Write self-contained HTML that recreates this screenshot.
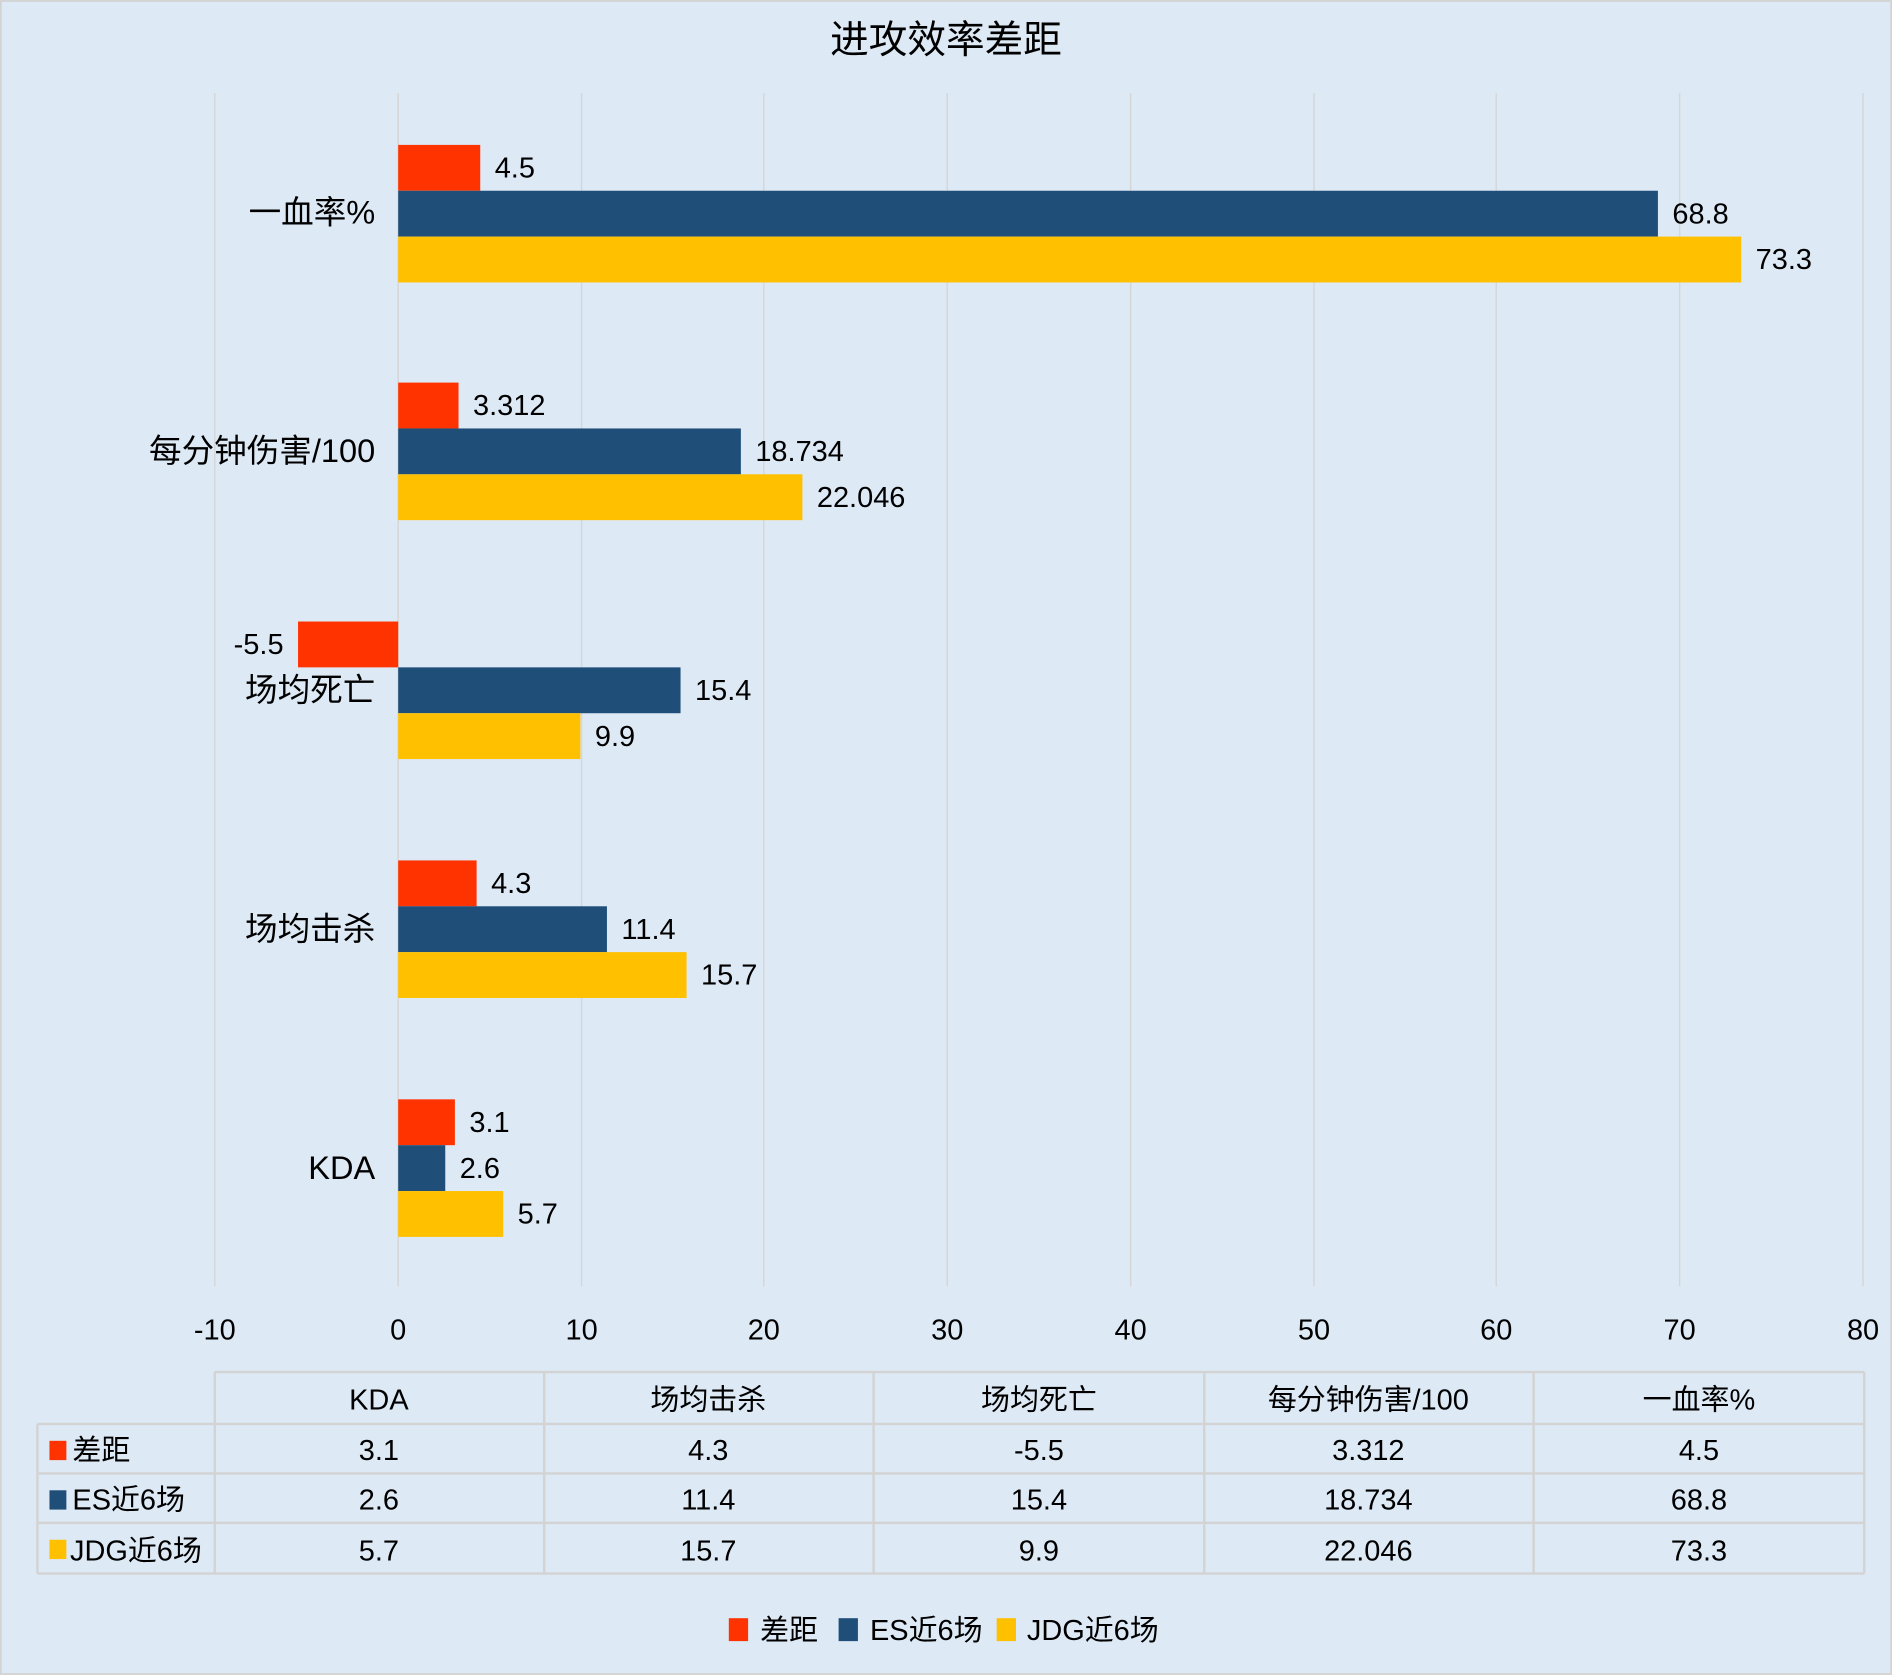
<!DOCTYPE html>
<html><head><meta charset="utf-8"><style>
html,body{margin:0;padding:0;background:#dde9f5;}
svg{display:block;}
text{font-family:"Liberation Sans","Noto Sans CJK SC",sans-serif;fill:#000;}
</style></head><body>
<svg width="1892" height="1675" viewBox="0 0 1568 1388" xmlns="http://www.w3.org/2000/svg">
<rect x="0" y="0" width="1568" height="1388" fill="#dde9f5"/>
<rect x="0.7" y="0.7" width="1566.6" height="1386.6" fill="none" stroke="#d3d3d3" stroke-width="1.5"/>
<text x="784" y="44" font-size="32" text-anchor="middle">进攻效率差距</text>
<g stroke="#d6d6d6" stroke-width="1.2">
<line x1="178" y1="77" x2="178" y2="1066"/>
<line x1="330" y1="77" x2="330" y2="1066"/>
<line x1="482" y1="77" x2="482" y2="1066"/>
<line x1="633" y1="77" x2="633" y2="1066"/>
<line x1="785" y1="77" x2="785" y2="1066"/>
<line x1="937" y1="77" x2="937" y2="1066"/>
<line x1="1089" y1="77" x2="1089" y2="1066"/>
<line x1="1240" y1="77" x2="1240" y2="1066"/>
<line x1="1392" y1="77" x2="1392" y2="1066"/>
<line x1="1544" y1="77" x2="1544" y2="1066"/>
</g>
<g font-size="24" text-anchor="middle">
<text x="178" y="1110">-10</text><text x="330" y="1110">0</text><text x="482" y="1110">10</text>
<text x="633" y="1110">20</text><text x="785" y="1110">30</text><text x="937" y="1110">40</text>
<text x="1089" y="1110">50</text><text x="1240" y="1110">60</text><text x="1392" y="1110">70</text>
<text x="1544" y="1110">80</text>
</g>
<g>
<rect x="330" y="120" width="68" height="38" fill="#ff3300"/>
<rect x="330" y="158" width="1044" height="38" fill="#1f4e79"/>
<rect x="330" y="196" width="1113" height="38" fill="#ffc000"/>
<rect x="330" y="317" width="50" height="38" fill="#ff3300"/>
<rect x="330" y="355" width="284" height="38" fill="#1f4e79"/>
<rect x="330" y="393" width="335" height="38" fill="#ffc000"/>
<rect x="247" y="515" width="83" height="38" fill="#ff3300"/>
<rect x="330" y="553" width="234" height="38" fill="#1f4e79"/>
<rect x="330" y="591" width="151" height="38" fill="#ffc000"/>
<rect x="330" y="713" width="65" height="38" fill="#ff3300"/>
<rect x="330" y="751" width="173" height="38" fill="#1f4e79"/>
<rect x="330" y="789" width="239" height="38" fill="#ffc000"/>
<rect x="330" y="911" width="47" height="38" fill="#ff3300"/>
<rect x="330" y="949" width="39" height="38" fill="#1f4e79"/>
<rect x="330" y="987" width="87" height="38" fill="#ffc000"/>
</g>
<g font-size="24">
<text x="410" y="147">4.5</text><text x="1386" y="185">68.8</text><text x="1455" y="223">73.3</text>
<text x="392" y="344">3.312</text><text x="626" y="382">18.734</text><text x="677" y="420">22.046</text>
<text x="235" y="542" text-anchor="end">-5.5</text><text x="576" y="580">15.4</text><text x="493" y="618">9.9</text>
<text x="407" y="740">4.3</text><text x="515" y="778">11.4</text><text x="581" y="816">15.7</text>
<text x="389" y="938">3.1</text><text x="381" y="976">2.6</text><text x="429" y="1014">5.7</text>
</g>
<g font-size="27" text-anchor="end">
<text x="311" y="185">一血率%</text>
<text x="311" y="383">每分钟伤害/100</text>
<text x="311" y="581">场均死亡</text>
<text x="311" y="779">场均击杀</text>
<text x="311" y="977">KDA</text>
</g>
<g stroke="#d3d3d3" stroke-width="2" fill="none">
<line x1="178" y1="1137" x2="1545" y2="1137"/>
<line x1="31" y1="1180" x2="1545" y2="1180"/>
<line x1="31" y1="1221" x2="1545" y2="1221"/>
<line x1="31" y1="1262" x2="1545" y2="1262"/>
<line x1="31" y1="1304" x2="1545" y2="1304"/>
<line x1="31" y1="1180" x2="31" y2="1304"/>
<line x1="178" y1="1137" x2="178" y2="1304"/>
<line x1="451" y1="1137" x2="451" y2="1304"/>
<line x1="724" y1="1137" x2="724" y2="1304"/>
<line x1="998" y1="1137" x2="998" y2="1304"/>
<line x1="1271" y1="1137" x2="1271" y2="1304"/>
<line x1="1545" y1="1137" x2="1545" y2="1304"/>
</g>
<g font-size="24" text-anchor="middle">
<text x="314" y="1168">KDA</text><text x="587" y="1168">场均击杀</text><text x="861" y="1168">场均死亡</text><text x="1134" y="1168">每分钟伤害/100</text><text x="1408" y="1168">一血率%</text>
<text x="314" y="1210">3.1</text><text x="587" y="1210">4.3</text><text x="861" y="1210">-5.5</text><text x="1134" y="1210">3.312</text><text x="1408" y="1210">4.5</text>
<text x="314" y="1251">2.6</text><text x="587" y="1251">11.4</text><text x="861" y="1251">15.4</text><text x="1134" y="1251">18.734</text><text x="1408" y="1251">68.8</text>
<text x="314" y="1293">5.7</text><text x="587" y="1293">15.7</text><text x="861" y="1293">9.9</text><text x="1134" y="1293">22.046</text><text x="1408" y="1293">73.3</text>
</g>
<rect x="41" y="1194" width="14" height="16" fill="#ff3300"/>
<rect x="41" y="1235" width="14" height="16" fill="#1f4e79"/>
<rect x="41" y="1276" width="14" height="16" fill="#ffc000"/>
<g font-size="24">
<text x="60" y="1210">差距</text><text x="60" y="1251">ES近6场</text><text x="58" y="1293">JDG近6场</text>
</g>
<rect x="604" y="1341" width="16" height="19" fill="#ff3300"/>
<rect x="695" y="1341" width="16" height="19" fill="#1f4e79"/>
<rect x="826" y="1341" width="16" height="19" fill="#ffc000"/>
<g font-size="24">
<text x="630" y="1359">差距</text><text x="721" y="1359">ES近6场</text><text x="851" y="1359">JDG近6场</text>
</g>
</svg>
</body></html>
